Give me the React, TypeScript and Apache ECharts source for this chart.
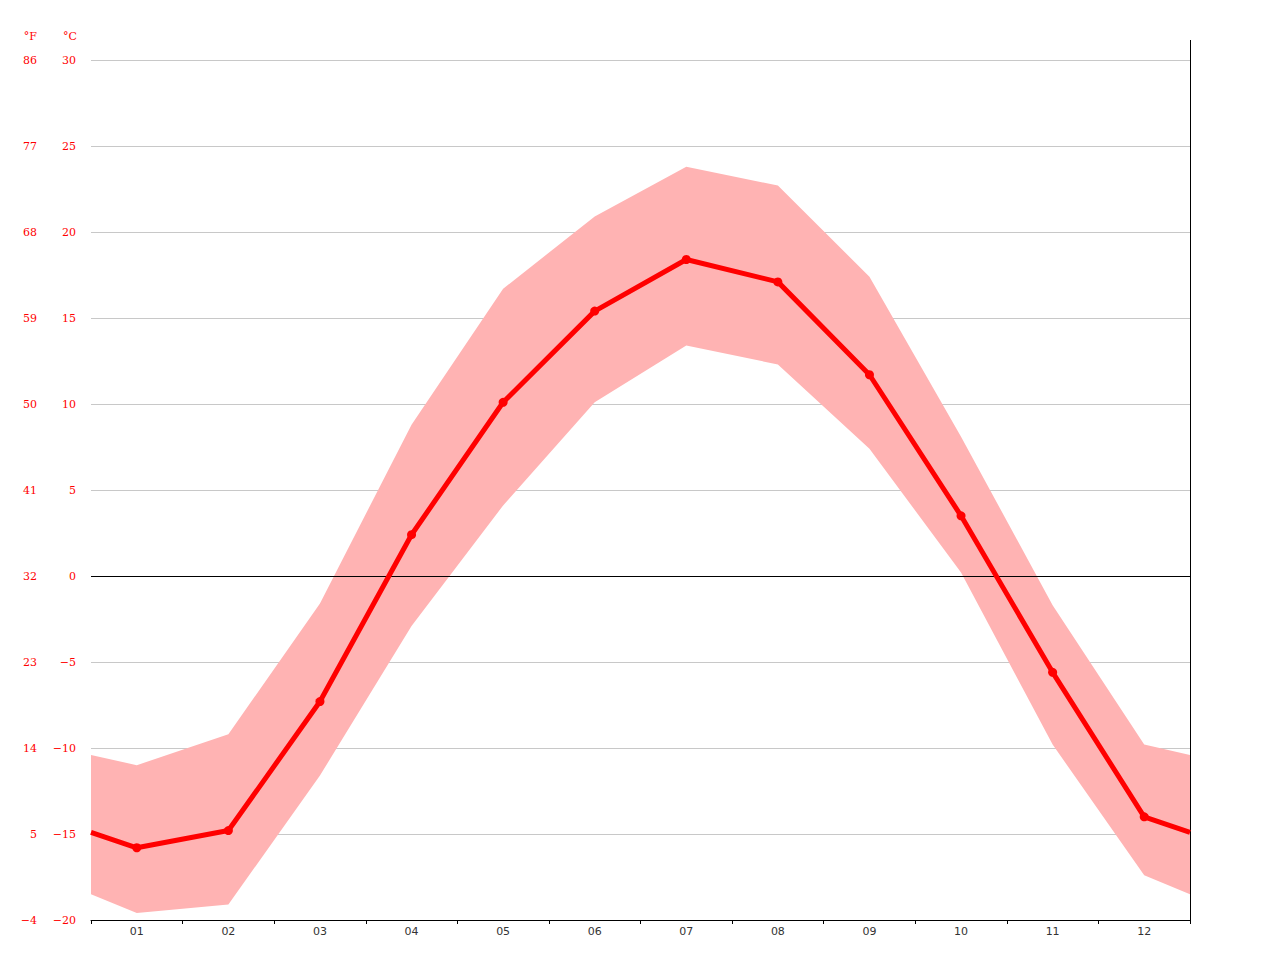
import React, { useEffect, useRef } from "react";
import * as echarts from "echarts";

const months = ["01", "02", "03", "04", "05", "06", "07", "08", "09", "10", "11", "12"];
const meanTemp = [-15.8, -14.8, -7.3, 2.4, 10.1, 15.4, 18.4, 17.1, 11.7, 3.5, -5.6, -14.0];
const maxTemp = [-11.0, -9.2, -1.6, 8.8, 16.7, 20.9, 23.8, 22.7, 17.4, 8.1, -1.7, -9.8];
const minTemp = [-19.6, -19.1, -11.6, -2.9, 4.1, 10.1, 13.4, 12.3, 7.4, 0.2, -9.8, -17.4];
// values at the left/right plot edges
const meanEdge = -14.9;
const maxEdge = -10.4;
const minEdge = -18.5;
const cTicks = [-20, 30, 5];

const minus = (s: string) => s.replace("-", "\u2212");

function withEdges(vals: number[], edge: number) {
  const out: any[] = [{ value: [0, edge], symbol: "none" }];
  vals.forEach((v, i) => out.push({ value: [i + 0.5, v] }));
  out.push({ value: [12, edge], symbol: "none" });
  return out;
}

export default function App() {
  const ref = useRef<HTMLDivElement>(null);
  useEffect(() => {
    const chart = echarts.init(ref.current!, null, { renderer: "svg" });
    const font = "DejaVu Serif";
    const bandRows: number[][] = [[0, minEdge, maxEdge]];
    minTemp.forEach((v, i) => bandRows.push([i + 0.5, v, maxTemp[i]]));
    bandRows.push([12, minEdge, maxEdge]);

    chart.setOption({
      animation: false,
      backgroundColor: "#ffffff",
      grid: { left: 91, right: 90, top: 60, bottom: 40, containLabel: false },
      xAxis: [
        {
          type: "value",
          min: 0,
          max: 12,
          interval: 1,
          axisLine: { show: true, onZero: false, lineStyle: { color: "#000", width: 1 } },
          axisTick: { show: true, length: 4, lineStyle: { color: "#000" } },
          axisLabel: { show: false },
          splitLine: { show: false },
        },
        {
          type: "category",
          position: "bottom",
          data: months,
          boundaryGap: true,
          axisLine: { show: false, onZero: false },
          axisTick: { show: false },
          axisLabel: { color: "#333", fontFamily: "DejaVu Sans", fontSize: 11, margin: 6 },
          splitLine: { show: false },
        },
      ],
      yAxis: [
        {
          type: "value",
          min: cTicks[0],
          max: cTicks[1],
          interval: cTicks[2],
          axisLine: { show: false },
          axisTick: { show: false },
          axisLabel: {
            color: "#ff0000",
            fontFamily: font,
            fontSize: 11,
            margin: 15,
            formatter: (v: number) => minus(String(v)),
          },
          splitLine: { show: true, lineStyle: { color: "#c8c8c8", width: 1 } },
        },
        {
          type: "value",
          position: "left",
          offset: 40,
          min: cTicks[0],
          max: cTicks[1],
          interval: cTicks[2],
          axisLine: { show: false },
          axisTick: { show: false },
          axisLabel: {
            color: "#ff0000",
            fontFamily: font,
            fontSize: 11,
            margin: 14,
            formatter: (v: number) => minus(String(Math.round((v * 9) / 5 + 32))),
          },
          splitLine: { show: false },
        },
      ],
      graphic: [
        { type: "text", x: 77, y: 36, style: { text: "°C", fill: "#ff0000", font: `11px '${font}'`, textAlign: "right", textVerticalAlign: "middle" } },
        { type: "text", x: 37, y: 36, style: { text: "°F", fill: "#ff0000", font: `11px '${font}'`, textAlign: "right", textVerticalAlign: "middle" } },
        { type: "line", shape: { x1: 1190.5, y1: 40, x2: 1190.5, y2: 920 }, style: { stroke: "#000", lineWidth: 1 } },
      ],
      series: [
        {
          type: "custom",
          xAxisIndex: 0,
          yAxisIndex: 0,
          data: bandRows,
          silent: true,
          z: 1,
          renderItem: (params: any, api: any) => {
            if (params.dataIndex !== 0) return null;
            const upper = bandRows.map((r) => api.coord([r[0], r[2]]));
            const lower = bandRows.map((r) => api.coord([r[0], r[1]])).reverse();
            return {
              type: "polygon",
              shape: { points: upper.concat(lower) },
              style: { fill: "#ffb3b3", stroke: "none" },
            };
          },
        },
        {
          type: "line",
          xAxisIndex: 0,
          yAxisIndex: 0,
          data: withEdges(meanTemp, meanEdge),
          symbol: "circle",
          symbolSize: 9,
          itemStyle: { color: "#ff0000" },
          lineStyle: { color: "#ff0000", width: 5 },
          z: 5,
          markLine: {
            silent: true,
            symbol: "none",
            label: { show: false },
            lineStyle: { color: "#000", width: 1, type: "solid" },
            data: [{ yAxis: 0 }],
            z: 3,
          },
        },
      ],
    });
    return () => chart.dispose();
  }, []);
  return <div ref={ref} style={{ position: "fixed", left: 0, top: 0, width: 1280, height: 960 }} />;
}
